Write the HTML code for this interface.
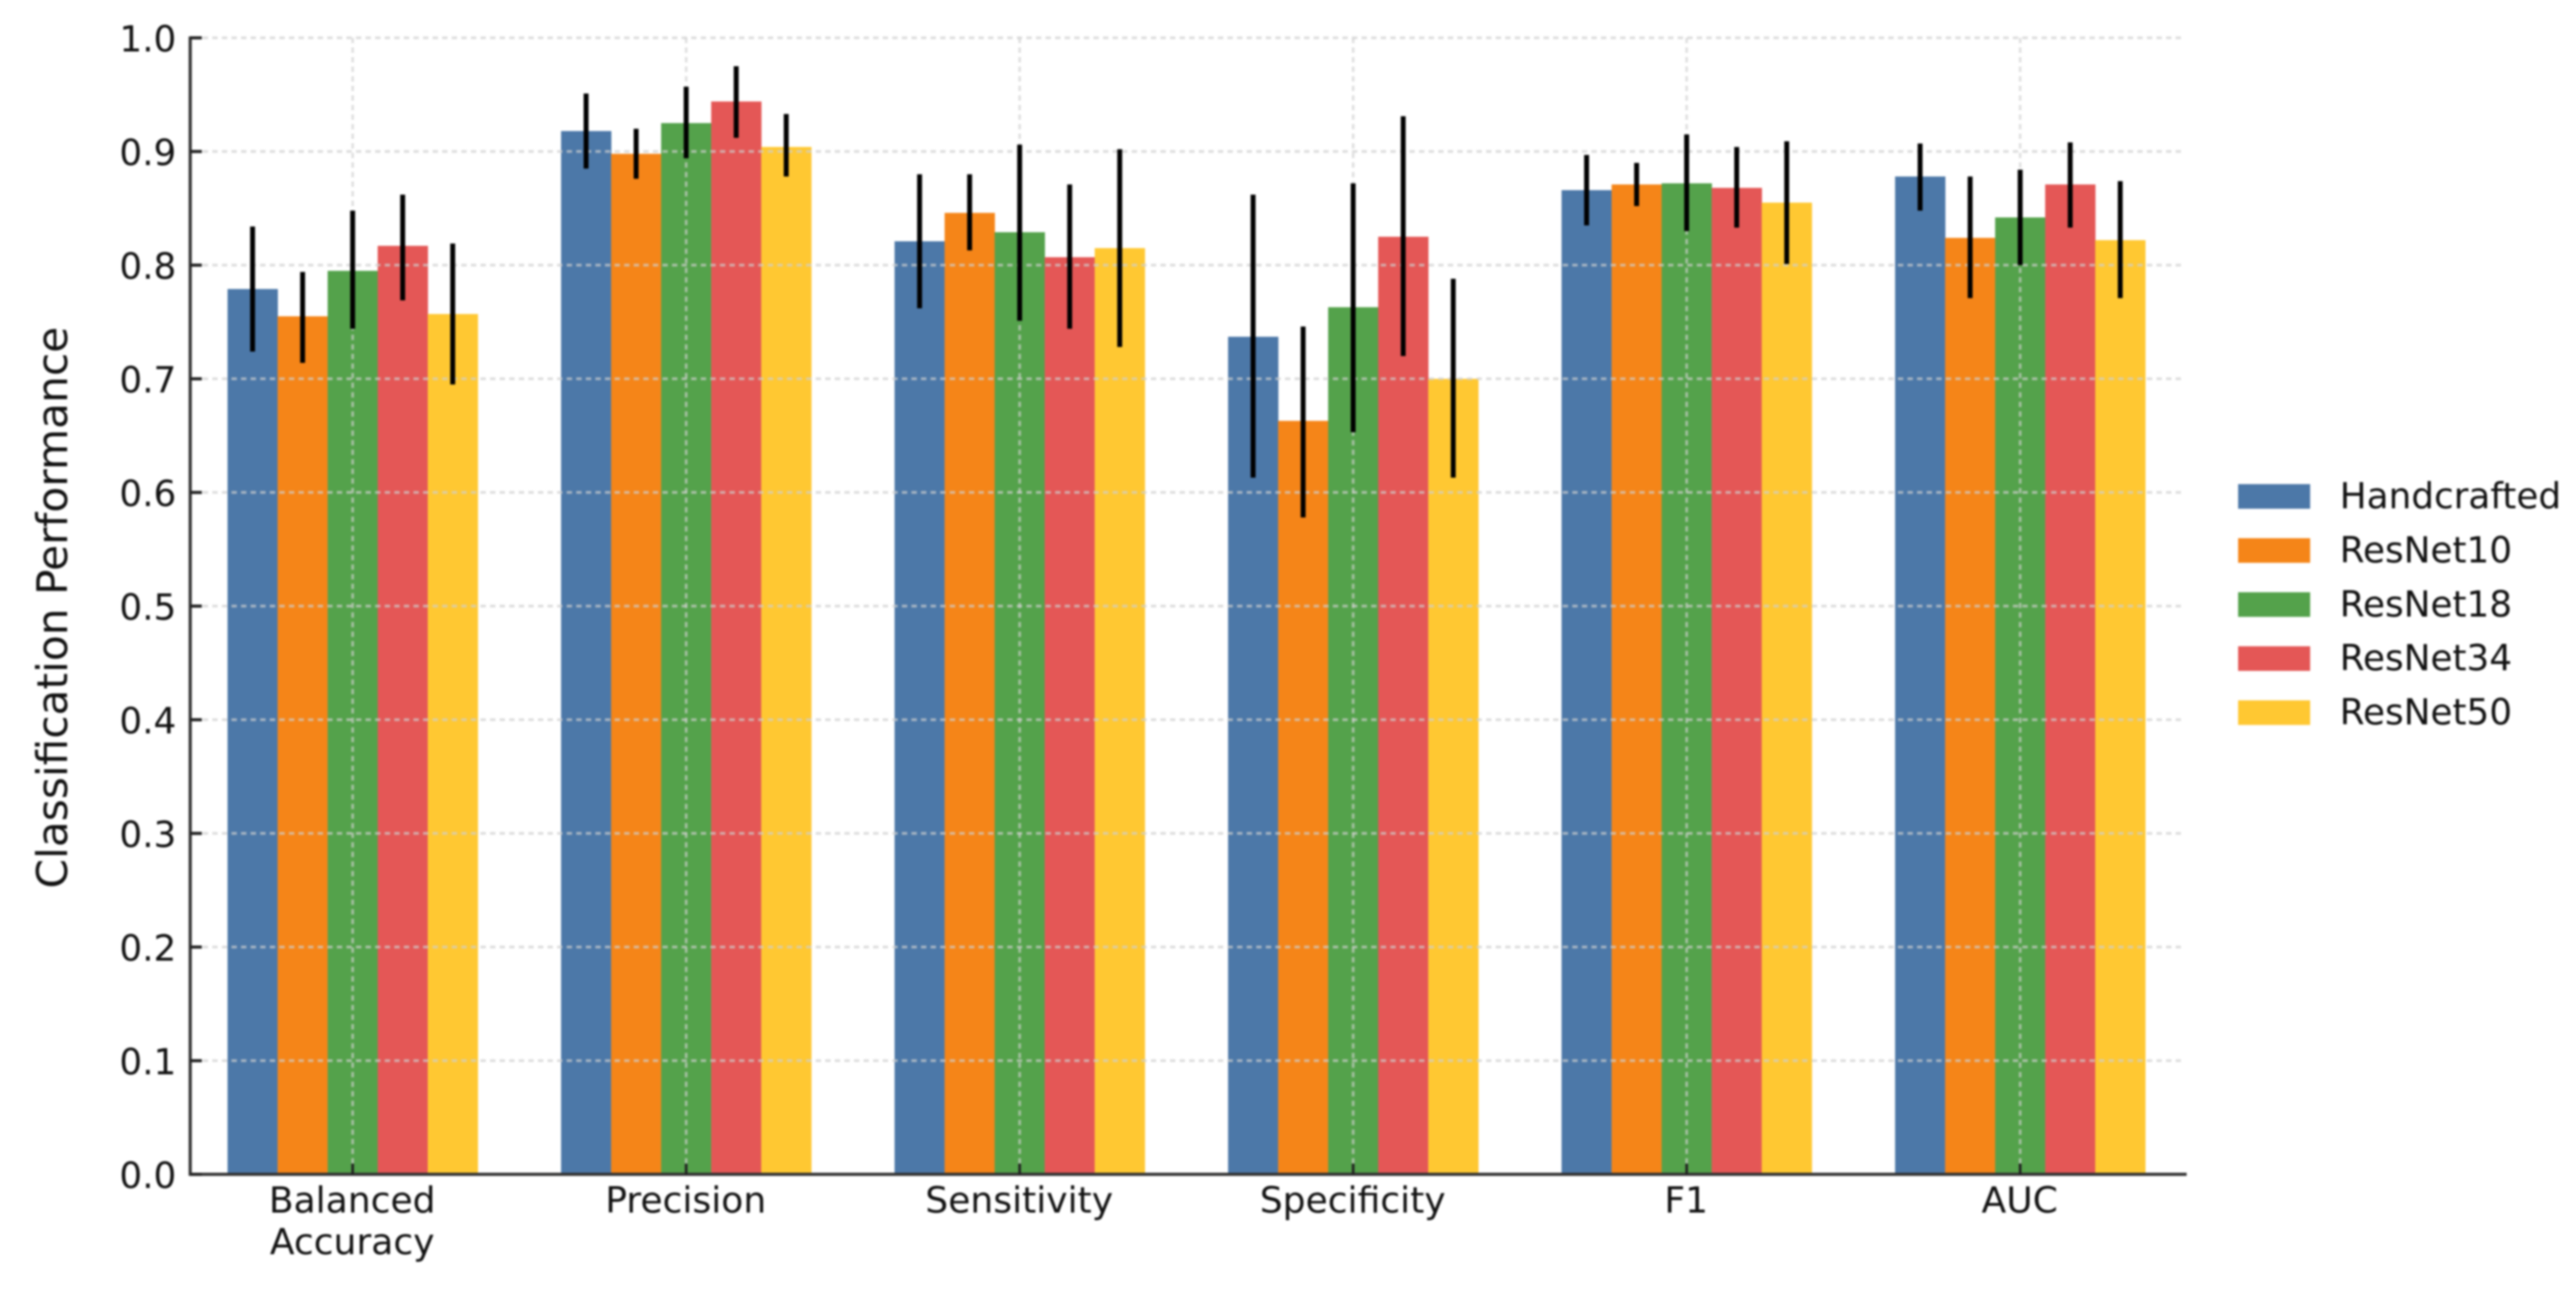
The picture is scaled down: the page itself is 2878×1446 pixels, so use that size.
<!DOCTYPE html>
<html lang="en">
<head>
<meta charset="utf-8">
<title>Classification Performance</title>
<style>
html,body{margin:0;padding:0;background:#fff;}
body{width:2878px;height:1446px;overflow:hidden;}
#chart{display:block;filter:blur(1px);}
text{font-family:"DejaVu Sans","Liberation Sans",sans-serif;fill:#111;}
</style>
</head>
<body>
<svg id="chart" xmlns="http://www.w3.org/2000/svg" width="2878" height="1446" viewBox="0 0 2878 1446"></svg>
<script>
const categories = [["Balanced","Accuracy"],["Precision"],["Sensitivity"],["Specificity"],["F1"],["AUC"]];
const seriesNames = ["Handcrafted","ResNet10","ResNet18","ResNet34","ResNet50"];
const seriesColors = ["#4c78a8","#f58518","#54a24b","#e45756","#ffc832"];
const yTickLabels = ["0.0","0.1","0.2","0.3","0.4","0.5","0.6","0.7","0.8","0.9","1.0"];

const handcrafted = [0.779,0.918,0.821,0.737,0.866,0.878];
const resnet10    = [0.755,0.898,0.846,0.663,0.871,0.824];
const resnet18    = [0.795,0.925,0.829,0.763,0.872,0.842];
const resnet34    = [0.817,0.944,0.807,0.825,0.868,0.871];
const resnet50    = [0.757,0.904,0.815,0.700,0.855,0.822];

const handcraftedLow  = [0.724,0.885,0.762,0.613,0.835,0.848];
const handcraftedHigh = [0.834,0.951,0.880,0.862,0.897,0.907];
const resnet10Low     = [0.714,0.876,0.813,0.578,0.852,0.771];
const resnet10High    = [0.794,0.920,0.880,0.746,0.890,0.878];
const resnet18Low     = [0.744,0.894,0.751,0.653,0.830,0.800];
const resnet18High    = [0.848,0.957,0.906,0.872,0.915,0.884];
const resnet34Low     = [0.769,0.912,0.744,0.720,0.833,0.833];
const resnet34High    = [0.862,0.975,0.871,0.931,0.904,0.908];
const resnet50Low     = [0.695,0.878,0.728,0.613,0.801,0.771];
const resnet50High    = [0.819,0.933,0.902,0.788,0.909,0.874];

const seriesValues = [handcrafted,resnet10,resnet18,resnet34,resnet50];
const seriesLows = [handcraftedLow,resnet10Low,resnet18Low,resnet34Low,resnet50Low];
const seriesHighs = [handcraftedHigh,resnet10High,resnet18High,resnet34High,resnet50High];

const svg = document.getElementById('chart');
const NS = 'http://www.w3.org/2000/svg';
const axisLeft = 212.5, axisRight = 2443, gridRight = 2441, axisBottom = 1312.3, axisTop = 42.3;
const groupStart = 394, groupStep = 372.6, barWidth = 55.9;

function yScale(v){ return axisBottom - v * (axisBottom - axisTop); }
function xCenter(g){ return groupStart + g * groupStep; }
function xBarLeft(g, s){ return xCenter(g) + (s - seriesNames.length / 2) * barWidth; }

function make(tag, attrs, text){
  const el = document.createElementNS(NS, tag);
  for (const k in attrs) el.setAttribute(k, attrs[k]);
  if (text !== undefined) el.textContent = text;
  svg.appendChild(el);
  return el;
}

// bars
seriesNames.forEach((name, s) => {
  seriesValues[s].forEach((v, g) => {
    const bar = make('rect', {x: xBarLeft(g, s), y: yScale(v), width: barWidth + 0.3, height: yScale(0) - yScale(v), fill: seriesColors[s]});
    
    
  });
});

// grid (above the bars)
yTickLabels.forEach((label) => {
  const v = parseFloat(label);
  if (v === 0) return;
  const line = make('line', {x1: axisLeft + 14, x2: gridRight, y1: yScale(v), y2: yScale(v), stroke: '#cfcfcf', 'stroke-width': 3, 'stroke-dasharray': '6 4.7', 'stroke-opacity': 0.7});
  
  
});
categories.forEach((c, g) => {
  const line = make('line', {x1: xCenter(g), x2: xCenter(g), y1: axisTop, y2: axisBottom - 12, stroke: '#cfcfcf', 'stroke-width': 3, 'stroke-dasharray': '6 4.7', 'stroke-opacity': 0.65});
  
  
});

// error bars
seriesNames.forEach((name, s) => {
  seriesLows[s].forEach((low, g) => {
    const cx = xBarLeft(g, s) + barWidth / 2;
    const err = make('line', {x1: cx, x2: cx, y1: yScale(low), y2: yScale(seriesHighs[s][g]), stroke: '#000', 'stroke-width': 5.5, 'stroke-linecap': 'butt'});
    
    
  });
});

// axes
const yAxisLine = make('line', {x1: axisLeft, x2: axisLeft, y1: axisTop - 1.5, y2: axisBottom + 1.5, stroke: '#333', 'stroke-width': 3.5});


const xAxisLine = make('line', {x1: axisLeft - 1.5, x2: axisRight, y1: axisBottom, y2: axisBottom, stroke: '#333', 'stroke-width': 3.5});



// y ticks and labels
yTickLabels.forEach((label) => {
  const v = parseFloat(label);
  const tick = make('line', {x1: axisLeft, x2: axisLeft + 13, y1: yScale(v), y2: yScale(v), stroke: '#222', 'stroke-width': 3.5});
  
  
  const t = make('text', {x: 197, y: yScale(v) + 15, 'text-anchor': 'end', 'font-size': 40}, label);
  
  
});

// x ticks and labels
categories.forEach((lines, g) => {
  const tick = make('line', {x1: xCenter(g), x2: xCenter(g), y1: axisBottom, y2: axisBottom - 12, stroke: '#222', 'stroke-width': 3});
  
  
  lines.forEach((line, i) => {
    const t = make('text', {x: xCenter(g) - 0.5, y: 1355 + i * 46.5, 'text-anchor': 'middle', 'font-size': 40.3}, line);
    
    
  });
});

// y axis title
const yTitle = make('text', {transform: 'translate(75,679) rotate(-90)', 'text-anchor': 'middle', 'font-size': 47.3}, 'Classification Performance');



// legend
seriesNames.forEach((name, s) => {
  const top = 541 + s * 60.4;
  const swatch = make('rect', {x: 2500.5, y: top, width: 80.5, height: 27.5, fill: seriesColors[s]});
  
  
  const t = make('text', {x: 2614, y: top + 27, 'font-size': 40}, name);
  
  
});
</script>
</body>
</html>
